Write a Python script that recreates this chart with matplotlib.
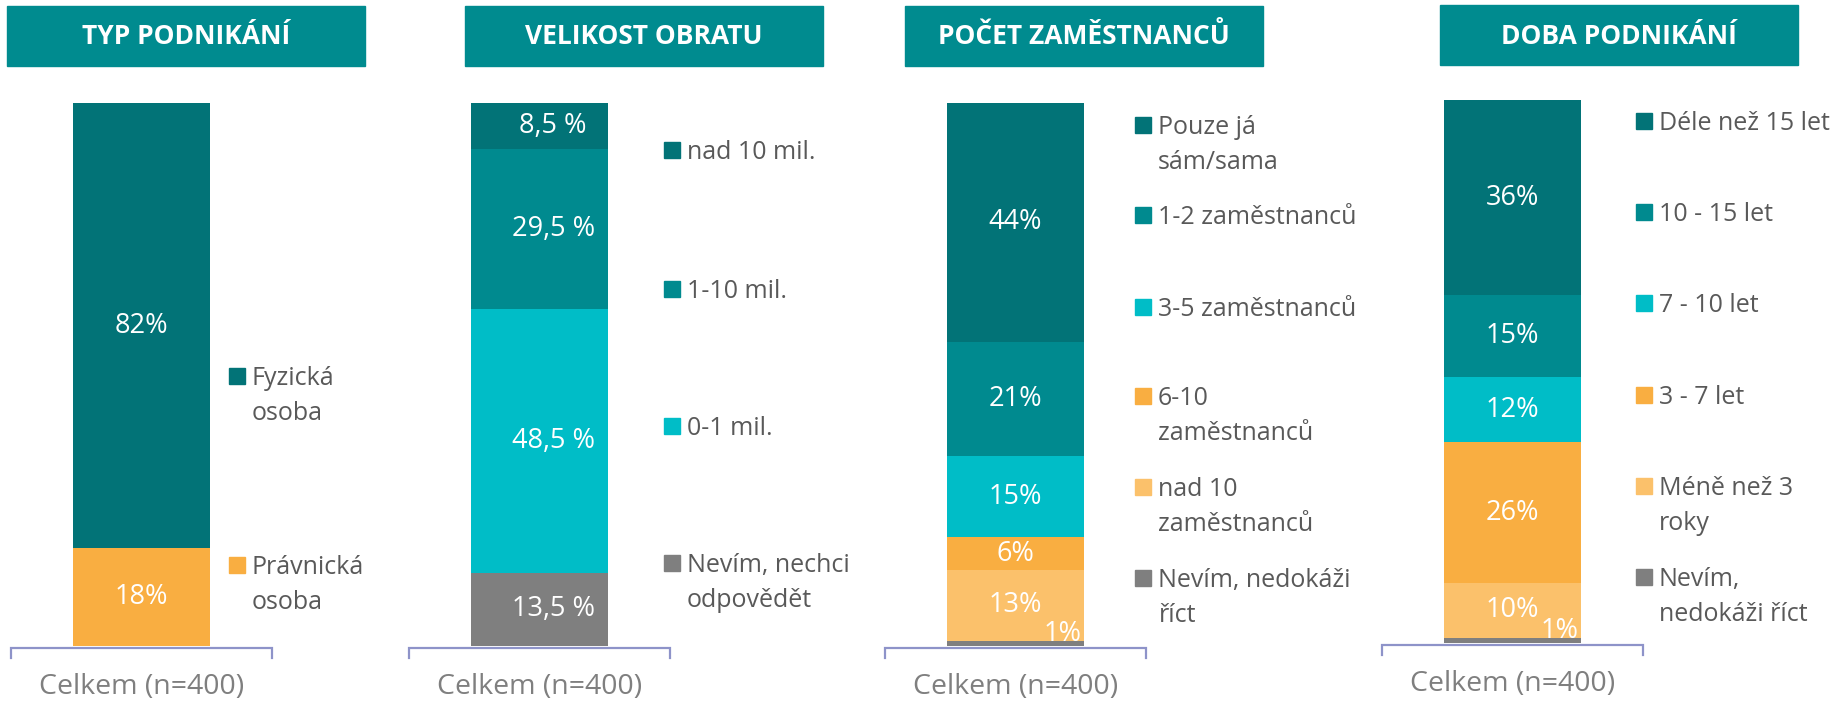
import matplotlib
matplotlib.use("Agg")
import matplotlib.pyplot as plt
from matplotlib.patches import Rectangle

# Data (legend order = top of bar first)
typ_labels = ["Fyzická\nosoba", "Právnická\nosoba"]
typ_values = [82, 18]

obrat_labels = ["nad 10 mil.", "1-10 mil.", "0-1 mil.", "Nevím, nechci\nodpovědět"]
obrat_values = [8.5, 29.5, 48.5, 13.5]

zam_labels = ["Pouze já\nsám/sama", "1-2 zaměstnanců", "3-5 zaměstnanců",
              "6-10\nzaměstnanců", "nad 10\nzaměstnanců", "Nevím, nedokáži\nříct"]
zam_values = [44, 21, 15, 6, 13, 1]

doba_labels = ["Déle než 15 let", "10 - 15 let", "7 - 10 let", "3 - 7 let",
               "Méně než 3\nroky", "Nevím,\nnedokáži říct"]
doba_values = [36, 15, 12, 26, 10, 1]

titles = ["TYP PODNIKÁNÍ", "VELIKOST OBRATU", "POČET ZAMĚSTNANCŮ", "DOBA PODNIKÁNÍ"]
category = "Celkem (n=400)"

# Colours
DARK = "#027377"
MID = "#008A8F"
CYAN = "#00BDC7"
ORANGE = "#F9AE41"
LORANGE = "#FBC16B"
GRAY = "#7F7F7F"
TITLE_BG = "#008B8F"
TEXT = "#595959"
BRACKET = "#8E93C9"

W, H = 1831, 704
plt.rcParams['font.family'] = ['Open Sans', 'DejaVu Sans']

fig = plt.figure(figsize=(W / 100, H / 100), dpi=100)


def fx(x):
    return x / W


def fy(y):
    return 1 - y / H


# layout per panel (pixels)
panels = [
    dict(labels=typ_labels, values=typ_values, colors=[DARK, ORANGE], fmt="{:.0f}%",
         bar=(73, 210, 103, 646), title=(7, 365, 6, 66), leg_x=229, leg_y=[376, 565], lab_dx=0),
    dict(labels=obrat_labels, values=obrat_values, colors=[DARK, MID, CYAN, GRAY], fmt="{:.1f} %",
         bar=(471, 608, 103, 646), title=(465, 823, 6, 66), leg_x=664, leg_y=[150, 289, 426, 563], lab_dx=0.1),
    dict(labels=zam_labels, values=zam_values, colors=[DARK, MID, CYAN, ORANGE, LORANGE, GRAY], fmt="{:.0f}%",
         bar=(947, 1084, 103, 646), title=(905, 1263, 6, 66), leg_x=1135,
         leg_y=[125, 215, 307, 396, 487, 578], lab_dx=0),
    dict(labels=doba_labels, values=doba_values, colors=[DARK, MID, CYAN, ORANGE, LORANGE, GRAY], fmt="{:.0f}%",
         bar=(1444, 1581, 100, 643), title=(1440, 1798, 5, 65), leg_x=1636,
         leg_y=[121, 212, 303, 395, 486, 577], lab_dx=0),
]

for p, title in zip(panels, titles):
    x0, x1, y0, y1 = p["bar"]
    ax = fig.add_axes([fx(x0), fy(y1), (x1 - x0) / W, (y1 - y0) / H])
    ax.set_xlim(-0.5, 0.5)
    ax.set_ylim(0, 100)
    ax.axis("off")

    # stack from the bottom (last legend item at the bottom)
    bottom = 0
    for lab, val, col in reversed(list(zip(p["labels"], p["values"], p["colors"]))):
        ax.bar(0, val, bottom=bottom, width=1, color=col, linewidth=0)
        txt = p["fmt"].format(val).replace(".", ",")
        if val < 3:
            # tiny segment: label sits at the right edge, cut off by the baseline
            ax.text(0.48, bottom + val / 2 + 1.8, txt, ha="right", va="center",
                    color="white", fontsize=19.5, clip_on=True)
        else:
            ax.text(p["lab_dx"], bottom + val / 2, txt, ha="center", va="center",
                    color="white", fontsize=19.5)
        bottom += val

    # bracket under the bar
    ax.plot([-0.95, -0.95, 0.95, 0.95], [-2.2, -0.3, -0.3, -2.2], color=BRACKET,
            lw=1.6, clip_on=False, solid_joinstyle="miter")
    ax.text(0, -7.5, category, ha="center", va="center", color=GRAY, fontsize=20.5)

    # title box
    tx0, tx1, ty0, ty1 = p["title"]
    fig.patches.append(Rectangle((fx(tx0), fy(ty1)), (tx1 - tx0) / W, (ty1 - ty0) / H,
                                 transform=fig.transFigure, color=TITLE_BG, zorder=0))
    fig.text(fx((tx0 + tx1) / 2), fy((ty0 + ty1) / 2 + 1), title, ha="center", va="center",
             color="white", fontsize=19, fontweight="bold")

    # legend
    for lab, col, ly in zip(p["labels"], p["colors"], p["leg_y"]):
        fig.patches.append(Rectangle((fx(p["leg_x"]), fy(ly + 8)), 16 / W, 16 / H,
                                     transform=fig.transFigure, color=col))
        for i, line in enumerate(lab.split("\n")):
            fig.text(fx(p["leg_x"] + 23), fy(ly + 35 * i + 9), line, ha="left",
                     va="baseline", color=TEXT, fontsize=18)

fig.savefig("out.png", dpi=100, facecolor="white")
